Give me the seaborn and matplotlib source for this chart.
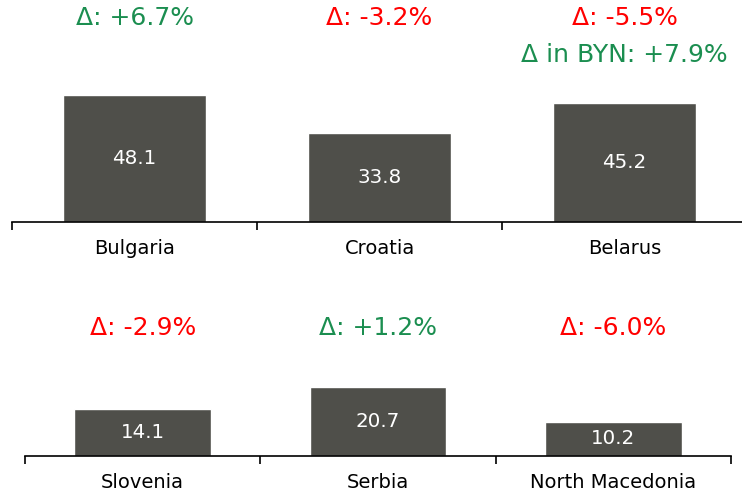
import matplotlib
matplotlib.use('Agg')
import matplotlib.pyplot as plt
import pandas as pd
import seaborn as sns

# values
top_countries = ['Bulgaria', 'Croatia', 'Belarus']
top_values = [48.1, 33.8, 45.2]
top_deltas = [6.7, -3.2, -5.5]

bottom_countries = ['Slovenia', 'Serbia', 'North Macedonia']
bottom_values = [14.1, 20.7, 10.2]
bottom_deltas = [-2.9, 1.2, -6.0]

byn_delta = 7.9  # extra line shown over Belarus

BAR = '#4f4f4a'
RED = '#ff0000'
GREEN = '#1b8e50'

sns.set_theme(style='white')
plt.rcParams['font.family'] = ['DejaVu Sans']

W, H = 742, 493
fig = plt.figure(figsize=(W / 100, H / 100), dpi=100)


def px_axes(left, right, base, height):
    # pixel box (from top-left) -> figure fraction
    return fig.add_axes([left / W, (H - base) / H, (right - left) / W, height / H])


def delta_color(d):
    return GREEN if d > 0 else RED


def draw_row(ax, countries, values, deltas, ymax, delta_off):
    df = pd.DataFrame({'country': countries, 'value': values})
    sns.barplot(data=df, x='country', y='value', order=countries, color=BAR,
                saturation=1, width=0.58, ax=ax)
    ax.set_xlim(-0.5, len(countries) - 0.5)
    ax.set_ylim(0, ymax)
    ax.set_xlabel('')
    ax.set_ylabel('')
    ax.set_yticks([])
    ax.set_xticks([i - 0.5 for i in range(len(countries) + 1)])
    ax.set_xticklabels([])
    ax.tick_params(axis='x', bottom=True, length=6, width=1.2, color='black', direction='out')
    for s in ['left', 'top', 'right']:
        ax.spines[s].set_visible(False)
    ax.spines['bottom'].set_color('black')
    ax.spines['bottom'].set_linewidth(1.2)
    ax.patch.set_alpha(0)

    for i, (c, v, d) in enumerate(zip(countries, values, deltas)):
        ax.text(i, v / 2, f'{v:.1f}', color='white', ha='center', va='center', fontsize=14.3)
        ax.annotate(c, xy=(i, 0), xycoords=('data', 'axes fraction'),
                    xytext=(0, -19.4), textcoords='offset points',
                    ha='center', va='center', fontsize=14, color='black')
        ax.annotate(f'Δ: {d:+.1f}%', xy=(i, 0), xycoords=('data', 'axes fraction'),
                    xytext=(0, delta_off), textcoords='offset points',
                    ha='center', va='center', fontsize=18, color=delta_color(d),
                    annotation_clip=False)


ax_top = px_axes(12, 747, 222, 158.4)
draw_row(ax_top, top_countries, top_values, top_deltas, 60, 146.9)
ax_top.annotate(f'Δ in BYN: {byn_delta:+.1f}%', xy=(2, 0), xycoords=('data', 'axes fraction'),
                xytext=(0, 120.2), textcoords='offset points',
                ha='center', va='center', fontsize=18, color=delta_color(byn_delta),
                annotation_clip=False)

ax_bot = px_axes(25, 731, 456, 83.5)
draw_row(ax_bot, bottom_countries, bottom_values, bottom_deltas, 25, 92.2)

fig.savefig('out.png', dpi=100)
